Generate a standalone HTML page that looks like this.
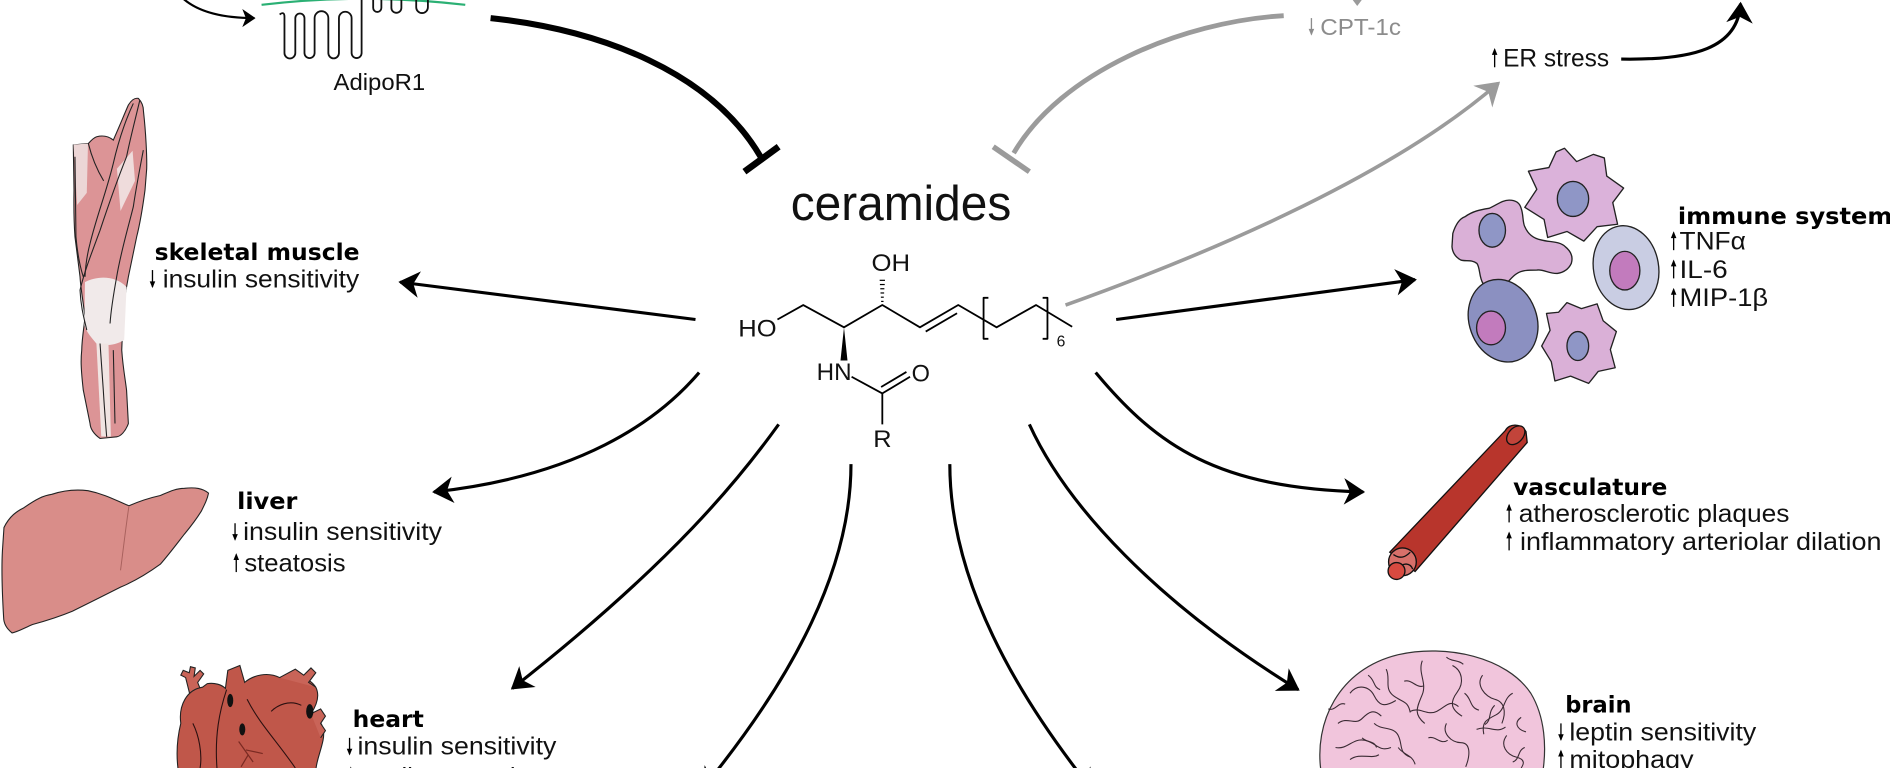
<!DOCTYPE html>
<html>
<head>
<meta charset="utf-8">
<style>
html,body{margin:0;padding:0;background:#fff;overflow:hidden;}
svg{display:block;}
.r{font-family:"Liberation Sans","DejaVu Sans",sans-serif;fill:#111;}
.b{font-family:"DejaVu Sans","Liberation Sans",sans-serif;font-weight:bold;fill:#000;}
</style>
</head>
<body>
<svg width="1890" height="768" viewBox="0 0 1568 637" preserveAspectRatio="none" xmlns="http://www.w3.org/2000/svg">
<defs>
<marker id="ah" viewBox="-20 -14 22 28" refX="0" refY="0" markerWidth="22" markerHeight="28" markerUnits="userSpaceOnUse" orient="auto"><path d="M1.5,0 L-16,-11 L-11,0 L-16,11 Z" fill="#000"/></marker>
<marker id="ahg" viewBox="-20 -14 22 28" refX="0" refY="0" markerWidth="22" markerHeight="28" markerUnits="userSpaceOnUse" orient="auto"><path d="M2,0 L-17,-12 L-11,0 L-17,12 Z" fill="#9b9b9b"/></marker>
<marker id="ahs" viewBox="-14 -10 16 20" refX="0" refY="0" markerWidth="16" markerHeight="20" markerUnits="userSpaceOnUse" orient="auto"><path d="M1,0 L-10,-7.5 L-7,0 L-10,7.5 Z" fill="#000"/></marker>
</defs>
<rect x="0" y="0" width="1568" height="637" fill="#fff"/>

<!-- top left: adiponectin arrow, membrane, receptor -->
<path d="M150,-3 Q168,15 211,15" fill="none" stroke="#000" stroke-width="1.8" marker-end="url(#ahs)"/>
<path d="M217,4 Q301,-6 386,4" fill="none" stroke="#2bb074" stroke-width="1.8"/>
<path d="M232,12 Q236,9 236,14 L236,44 A4.5,4.5 0 0 0 245,44 L245,15 A3.8,3.8 0 0 1 252.6,15 L252.6,44 A4.2,4.2 0 0 0 261,44 L261,15 A5.7,5.7 0 0 1 272.4,15 L272.4,44 A4.4,4.4 0 0 0 281.2,44 L281.2,15 A5.25,5.25 0 0 1 291.7,15 L291.7,44 A4.15,4.15 0 0 0 300,44 L300,-5" fill="none" stroke="#111" stroke-width="1.5"/>
<path d="M309.6,-5 L309.6,6.5 A3.4,3.4 0 0 0 316.4,6.5 L316.4,-3 A4.15,4.15 0 0 1 324.7,-3 L324.7,6.5 A4.15,4.15 0 0 0 333,6.5 L333,-3 A6.15,6.15 0 0 1 345.3,-3 L345.3,6 A4.85,4.85 0 0 0 355,6 L355,-5" fill="none" stroke="#111" stroke-width="1.5"/>
<text class="r" x="276.7" y="74.5" font-size="19" textLength="76" lengthAdjust="spacingAndGlyphs">AdipoR1</text>

<!-- inhibition curves -->
<path d="M407,15 C500,25 590,60 631,130" fill="none" stroke="#000" stroke-width="5"/>
<line x1="617.6" y1="142.4" x2="646" y2="121.7" stroke="#000" stroke-width="5.5"/>
<path d="M1065,13 C980,18 880,60 841,127" fill="none" stroke="#9b9b9b" stroke-width="4"/>
<line x1="824" y1="121.7" x2="854" y2="142.4" stroke="#9b9b9b" stroke-width="4.5"/>

<!-- CPT-1c -->
<path d="M1126,-6 L1126,2" stroke="#9b9b9b" stroke-width="1.5"/>
<path d="M1121.5,-1 L1130.5,-1 L1126,5 Z" fill="#9b9b9b"/>
<path d="M1088,15 L1088,28.5" stroke="#8c8c8c" stroke-width="1.1"/>
<path d="M1085.7,24 L1088,29.5 L1090.3,24 Z" fill="#8c8c8c"/>
<text class="r" x="1095.3" y="29" font-size="19" textLength="67" lengthAdjust="spacingAndGlyphs" style="fill:#8c8c8c">CPT-1c</text>

<!-- ER stress -->
<path d="M884,253 C990,215 1150,150 1243,69" fill="none" stroke="#9b9b9b" stroke-width="3" marker-end="url(#ahg)"/>
<path d="M1240,55.8 L1240,41" stroke="#000" stroke-width="1.1"/>
<path d="M1237.7,45.5 L1240,39.8 L1242.3,45.5 Z" fill="#000"/>
<text class="r" x="1247" y="55.3" font-size="21" textLength="88" lengthAdjust="spacingAndGlyphs">ER stress</text>
<path d="M1345,49 C1405,50 1442,40 1444,3" fill="none" stroke="#000" stroke-width="2.6" marker-end="url(#ah)"/>

<!-- ceramides -->
<text class="r" x="656" y="182.5" font-size="41" textLength="183" lengthAdjust="spacingAndGlyphs">ceramides</text>

<!-- molecule -->
<g fill="none" stroke="#000" stroke-width="1.5" stroke-linejoin="round">
<path d="M645,265 L666.4,253 L700.2,271.5 L732,253 L763.2,271.5 L795,253 L826.8,271.5 L859.5,253 L889.5,271"/>
<path d="M768,275 L794,259.8"/>
<path d="M706.5,312.5 L732,326.3 L755,312.5"/>
<path d="M731,321 L752,308.5"/>
<path d="M732,326.3 L732,352"/>
<path d="M820,247 L816,247 L816,281 L820,281"/>
<path d="M865,247 L869,247 L869,281 L865,281"/>
</g>
<g stroke="#000" stroke-width="1">
<line x1="731" y1="250" x2="733" y2="250"/>
<line x1="730.8" y1="246.5" x2="733.2" y2="246.5"/>
<line x1="730.5" y1="243" x2="733.5" y2="243"/>
<line x1="730.3" y1="239.5" x2="733.7" y2="239.5"/>
<line x1="730" y1="236" x2="734" y2="236"/>
<line x1="729.8" y1="232.5" x2="734.2" y2="232.5"/>
</g>
<path d="M700.2,271.5 L697.3,299 L703.1,299 Z" fill="#000"/>
<text class="r" x="612.5" y="279.3" font-size="20" textLength="31.8" lengthAdjust="spacingAndGlyphs">HO</text>
<text class="r" x="723" y="224.8" font-size="20" textLength="32" lengthAdjust="spacingAndGlyphs">OH</text>
<text class="r" x="677.5" y="315.3" font-size="20" textLength="29" lengthAdjust="spacingAndGlyphs">HN</text>
<text class="r" x="756.3" y="316.6" font-size="20" textLength="15.2" lengthAdjust="spacingAndGlyphs">O</text>
<text class="r" x="724.5" y="370.6" font-size="20" textLength="15.2" lengthAdjust="spacingAndGlyphs">R</text>
<text class="r" x="876.6" y="287.6" font-size="13">6</text>

<!-- effect arrows -->
<g fill="none" stroke="#000" stroke-width="2.6">
<path d="M577,265 L332,234" marker-end="url(#ah)"/>
<path d="M926,265 L1174,232" marker-end="url(#ah)"/>
<path d="M580,309 C545,350 480,395 360,408" marker-end="url(#ah)"/>
<path d="M646,352 C615,395 560,465 425,571" marker-end="url(#ah)"/>
<path d="M706,385 C706,470 660,560 583,654" marker-end="url(#ah)"/>
<path d="M788,385 C788,470 830,560 906,655" marker-end="url(#ah)"/>
<path d="M909,309 C960,370 1010,405 1131,408" marker-end="url(#ah)"/>
<path d="M854,352 C885,420 960,500 1077,572" marker-end="url(#ah)"/>
</g>

<!-- skeletal muscle illustration -->
<path d="M114.8,81.6 C118,85 119,88 119,92 C121,110 122,130 121.7,140 L120.3,157.7 C118,175 116,186 113.4,196.4 L106.5,229.6 C104,244 102.5,250 102.3,257.2 L101,290.4 C102,305 104,315 105,323.6 L106.5,351.3 C104,358 100,362 96.8,362.3 L83,363.7 C78,360 75,356 74.7,351.3 L69.1,323.6 C67,305 67,298 67.8,290.4 C68,280 70,270 70.5,262.7 C69,250 67,240 66.4,229.6 L62.2,196.4 C61,180 61.2,170 61.4,157.7 L60.8,120.3 L73.3,119 C76,116 78,114 80.2,113.4 C86,112 90,113 94,116.2 C99,105 103,95 106.5,87.1 C109,83 112,81 114.8,81.6 Z" fill="#dc9496" stroke="#222" stroke-width="0.9"/>
<path d="M61,120 L73,119 L72,160 L64,170 Z" fill="#ecd6d6"/>
<path d="M97,140 L110,125 L112,150 L100,175 Z" fill="#efdcdc"/>
<path d="M70.5,234 C80,229 95,228 105,238 L103,282 C95,287 85,287 80,285 C76,280 72,276 70,270 Z" fill="#f1eaea"/>
<path d="M80,285 L90,285 L92,362 L84,362 Z" fill="#f0e4e2"/>
<g fill="none" stroke="#222" stroke-width="0.9">
<path d="M116,83 C112,100 108,115 105,130 C97,150 90,170 83,191 C76,210 70,225 66.4,240.6 C67,255 70,265 72,273.8"/>
<path d="M110.6,85.8 C104,100 98,118 94,135.5 C88,160 80,180 74.7,202 C72,212 71,220 70.5,229.6"/>
<path d="M118.9,124.5 C116,140 113,155 110.6,171.5 C106,190 100,210 96.8,229.6 C94,245 92,258 91.3,268.3"/>
<path d="M83,284.9 C84,300 85,312 85.7,323.6 C86.5,337 87.5,350 88.5,362.3"/>
<path d="M94,290.4 C94.5,310 95,330 95.4,351.3"/>
<path d="M62.2,130 C62.5,155 62.8,175 63,196.4 C64,208 66,220 69.1,229.6"/>
<path d="M73.3,119 C76,130 80,140 86,150"/>
</g>
<text class="b" x="128.3" y="215.7" font-size="19.5" textLength="170" lengthAdjust="spacingAndGlyphs">skeletal muscle</text>
<path d="M126.5,224 L126.5,237.9" stroke="#000" stroke-width="1.1"/>
<path d="M124.2,233.4 L126.5,239 L128.8,233.4 Z" fill="#000"/>
<text class="r" x="135" y="238.4" font-size="21" textLength="163" lengthAdjust="spacingAndGlyphs">insulin sensitivity</text>

<!-- liver -->
<path d="M3.3,437.5 C8,428 14,424 20,421 C30,414 36,411 43,410 C55,406 65,406 73,407 C88,410 98,416 107,419.5 C115,416 124,413 133,411 C140,408 146,405 153,405 C162,404 168,405 173,409 C172,414 170,418 167,424 C162,432 158,437 153,443 C146,452 140,460 133,468 C122,476 112,482 100,487 C86,494 74,500 60,507 C48,512 38,515 27,518 C20,521 15,524 10,525 C5,521 3,517 3,512 C2,495 1,475 2,457 Z" fill="#d98d89" stroke="#222" stroke-width="0.9"/>
<path d="M107,419.5 C104,440 102,458 100,473" fill="none" stroke="#a8615d" stroke-width="0.8"/>
<text class="b" x="196.7" y="422" font-size="19.5" textLength="50" lengthAdjust="spacingAndGlyphs">liver</text>
<path d="M195,434 L195,447.5" stroke="#000" stroke-width="1.1"/>
<path d="M192.7,443 L195,448.6 L197.3,443 Z" fill="#000"/>
<text class="r" x="201.7" y="448" font-size="21" textLength="165" lengthAdjust="spacingAndGlyphs">insulin sensitivity</text>
<path d="M196,474.5 L196,460" stroke="#000" stroke-width="1.1"/>
<path d="M193.7,464.5 L196,458.8 L198.3,464.5 Z" fill="#000"/>
<text class="r" x="202.7" y="474" font-size="21" textLength="84" lengthAdjust="spacingAndGlyphs">steatosis</text>

<!-- heart -->
<g stroke="#222" stroke-width="0.9">
<path d="M158,578 L154,562 L150,560 L152,556 L157,558 L158,553 L162,554 L161,561 L166,556 L169,559 L164,566 L168,576 Z" fill="#c96458"/>
<path d="M150,600 C148,585 155,572 168,570 L172,567 C178,566 184,568 187,571 L189,556 L199,552 L203,566 C210,560 222,557 232,562 C242,558 255,560 262,570 C266,578 262,586 258,592 C266,596 270,604 268,614 C266,624 262,632 262,640 L148,640 C146,626 147,612 150,600 Z" fill="#c0574a"/>
<path d="M232,562 L245,555 L252,560 L258,554 L262,558 L256,566 L262,570" fill="#c96458"/>
<path d="M258,592 L266,588 L270,594 L266,600 L270,606 L266,612" fill="#c96458"/>
</g>
<g fill="none" stroke="#2a1010" stroke-width="0.9">
<path d="M188,572 C182,590 178,610 180,637"/>
<path d="M205,580 C215,600 230,615 245,637"/>
<path d="M225,590 C230,585 240,580 250,585"/>
<path d="M160,600 C165,610 168,625 166,637"/>
</g>
<g fill="none" stroke="#7a2a22" stroke-width="1">
<path d="M198,615 L210,632"/><path d="M204,622 L218,625"/><path d="M206,626 L200,636"/>
</g>
<ellipse cx="191" cy="581" rx="2.5" ry="5.5" fill="#111"/>
<ellipse cx="257" cy="590" rx="3" ry="6" fill="#111"/>
<ellipse cx="201" cy="605" rx="2.5" ry="5" fill="#111"/>
<text class="b" x="292.6" y="602.8" font-size="19.5" textLength="59" lengthAdjust="spacingAndGlyphs">heart</text>
<path d="M290,612 L290,625.5" stroke="#000" stroke-width="1.1"/>
<path d="M287.7,621 L290,626.6 L292.3,621 Z" fill="#000"/>
<text class="r" x="296.6" y="626" font-size="21" textLength="165" lengthAdjust="spacingAndGlyphs">insulin sensitivity</text>
<path d="M291,652 L291,637" stroke="#000" stroke-width="1.1"/>
<path d="M288.7,641.5 L291,635.8 L293.3,641.5 Z" fill="#000"/>
<text class="r" x="297" y="651" font-size="21">cardiomyopathy</text>

<!-- immune cells -->
<g stroke="#222" stroke-width="1.1" stroke-linejoin="round">
<path d="M1298,123 L1308,134 L1322,128 L1331,131 L1333,146 L1347,156 L1338,168 L1342,186 L1325,188 L1314,200 L1300,192 L1284,197 L1281,182 L1265,172 L1275,157 L1268,142 L1285,139 L1291,126 Z" fill="#dbb2da"/>
<ellipse cx="1305" cy="165" rx="13" ry="14.5" fill="#8f96c6"/>
<path d="M1205.3,193.6 C1208,185 1212,181 1215.3,179.8 C1222,175 1228,174 1235.3,172.8 C1242,170 1246,166 1252,166 C1258,166 1261,169 1262,172.8 C1264,178 1263,184 1265,188 C1268,195 1273,198 1278.6,199 C1286,201 1294,200 1298.6,204.6 C1304,209 1305,214 1303.6,218.5 C1301,224 1297,226 1292,226.8 C1285,227 1280,223 1275,224 C1268,224 1263,224 1258.6,226.8 C1253,230 1250,237 1245.3,237.8 C1239,239 1233,238 1230.3,235 C1227,230 1228,222 1225.3,218.5 C1221,215 1216,217 1212,215.7 C1207,213 1205,209 1204.6,204.6 Z" fill="#dab0d7"/>
<ellipse cx="1238" cy="191" rx="11" ry="14" fill="#8f96c6"/>
<ellipse cx="1349" cy="222" rx="27" ry="35" transform="rotate(-10 1349 222)" fill="#c9cde3"/>
<ellipse cx="1348" cy="224.5" rx="12.5" ry="16" fill="#c27bbd"/>
<ellipse cx="1247" cy="266" rx="28" ry="35" transform="rotate(-20 1247 266)" fill="#8b90c1"/>
<ellipse cx="1237" cy="272" rx="12" ry="14" fill="#c27bbd"/>
<path d="M1300,251 L1312,256 L1325,252 L1330,266 L1341,275 L1336,290 L1340,305 L1326,308 L1318,318 L1303,312 L1290,316 L1287,300 L1279,287 L1286,274 L1283,260 L1293,259 Z" fill="#dab0d7"/>
<ellipse cx="1309" cy="287" rx="9" ry="12" fill="#8f96c6"/>
</g>
<text class="b" x="1392" y="186" font-size="19.5" textLength="178" lengthAdjust="spacingAndGlyphs">immune system</text>
<g stroke="#000" stroke-width="1.1">
<path d="M1388.5,207.5 L1388.5,193"/><path d="M1388.5,230.9 L1388.5,216.4"/><path d="M1388.5,254.5 L1388.5,240"/>
</g>
<g fill="#000">
<path d="M1386.2,197.5 L1388.5,191.8 L1390.8,197.5 Z"/>
<path d="M1386.2,220.9 L1388.5,215.2 L1390.8,220.9 Z"/>
<path d="M1386.2,244.5 L1388.5,238.8 L1390.8,244.5 Z"/>
</g>
<text class="r" x="1393.4" y="207" font-size="21" textLength="55" lengthAdjust="spacingAndGlyphs">TNFα</text>
<text class="r" x="1393.4" y="230.4" font-size="21" textLength="40" lengthAdjust="spacingAndGlyphs">IL-6</text>
<text class="r" x="1393.4" y="254" font-size="21" textLength="73.5" lengthAdjust="spacingAndGlyphs">MIP-1β</text>

<!-- vessel -->
<g stroke="#111" stroke-width="1.1">
<path d="M1249,357 C1252,351 1262,351 1266,358 L1267,367 L1174,474 L1153,458 Z" fill="#b8352c"/>
<ellipse cx="1257.5" cy="361" rx="9" ry="6" transform="rotate(-47 1257.5 361)" fill="#c2443a"/>
<circle cx="1163.5" cy="466" r="11.5" fill="#d7706a"/>
<path d="M1156,460 C1162,464 1166,462 1170,458 M1160,472 C1164,466 1170,467 1172,472" fill="none"/>
<circle cx="1158.6" cy="473.6" r="7" fill="#d84a40"/>
</g>
<text class="b" x="1255.3" y="410.7" font-size="19.5" textLength="128" lengthAdjust="spacingAndGlyphs">vasculature</text>
<g stroke="#000" stroke-width="1.1">
<path d="M1252,433.3 L1252,419"/><path d="M1252,456.5 L1252,442"/>
</g>
<g fill="#000">
<path d="M1249.7,423.5 L1252,417.8 L1254.3,423.5 Z"/>
<path d="M1249.7,446.5 L1252,440.8 L1254.3,446.5 Z"/>
</g>
<text class="r" x="1260" y="432.8" font-size="21" textLength="224.6" lengthAdjust="spacingAndGlyphs">atherosclerotic plaques</text>
<text class="r" x="1261" y="456" font-size="21" textLength="300" lengthAdjust="spacingAndGlyphs">inflammatory arteriolar dilation</text>

<!-- brain -->
<path d="M1096,640 C1090,600 1110,555 1160,543 C1200,534 1250,545 1270,575 C1282,595 1283,620 1280,640 Z" fill="#f1c5dc" stroke="#333" stroke-width="1"/>
<g fill="none" stroke="#3a2a33" stroke-width="0.9">
<path d="M1110,600 c8,-6 14,2 20,-4 s10,-8 16,-2"/>
<path d="M1120,575 c6,-8 16,-6 20,2 s8,10 18,4"/>
<path d="M1150,555 c4,8 -2,16 6,22 s12,4 14,14"/>
<path d="M1180,548 c-4,10 4,18 0,28 s-8,16 2,24"/>
<path d="M1205,552 c8,4 10,14 4,22 s-6,14 4,20"/>
<path d="M1230,560 c-6,8 2,18 10,20 s10,10 6,20"/>
<path d="M1255,575 c-8,4 -6,14 -14,18 s-12,6 -10,16"/>
<path d="M1108,620 c10,2 14,-8 24,-6 s12,10 22,6"/>
<path d="M1140,600 c6,6 16,2 20,10 s0,14 10,18"/>
<path d="M1170,590 c8,-4 14,4 22,0 s10,-10 18,-4"/>
<path d="M1200,600 c-4,8 4,16 12,16 s8,10 4,20"/>
<path d="M1225,605 c10,-4 16,4 24,-2"/>
<path d="M1250,610 c-6,8 0,16 8,18 s6,6 4,9"/>
<path d="M1120,630 c8,-6 18,0 24,-4"/>
<path d="M1160,620 c4,6 12,6 14,14"/>
<path d="M1262,595 c-6,4 -4,10 4,12"/>
<path d="M1102,588 c6,2 8,-6 14,-4"/>
<path d="M1135,560 c6,4 4,10 10,12"/>
<path d="M1165,565 c6,-2 10,6 16,4"/>
<path d="M1215,575 c6,4 4,12 12,14"/>
<path d="M1240,585 c-6,6 -2,12 -8,16"/>
<path d="M1185,612 c6,-2 10,6 16,2"/>
<path d="M1130,612 c4,4 10,2 12,8"/>
<path d="M1265,620 c-6,2 -4,10 -10,12"/>
<path d="M1200,545 c4,4 10,2 14,6"/>
</g>
<text class="b" x="1298.6" y="591" font-size="19.5" textLength="55" lengthAdjust="spacingAndGlyphs">brain</text>
<path d="M1295,600 L1295,613.5" stroke="#000" stroke-width="1.1"/>
<path d="M1292.7,609 L1295,614.6 L1297.3,609 Z" fill="#000"/>
<text class="r" x="1302" y="614" font-size="21" textLength="155" lengthAdjust="spacingAndGlyphs">leptin sensitivity</text>
<path d="M1295,637.5 L1295,623" stroke="#000" stroke-width="1.1"/>
<path d="M1292.7,627.5 L1295,621.8 L1297.3,627.5 Z" fill="#000"/>
<text class="r" x="1302" y="637" font-size="21" textLength="103" lengthAdjust="spacingAndGlyphs">mitophagy</text>
</svg>
</body>
</html>
